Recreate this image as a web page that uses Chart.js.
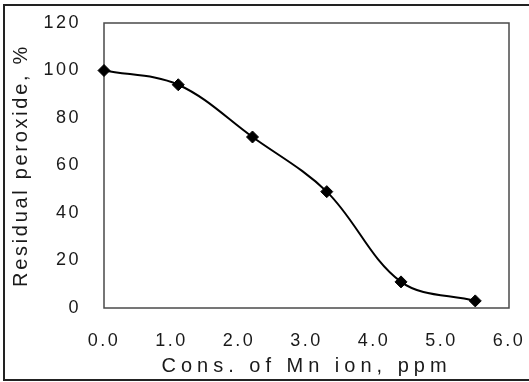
<!DOCTYPE html>
<html>
<head>
<meta charset="utf-8">
<script src="https://cdn.jsdelivr.net/npm/chart.js@4/dist/chart.umd.min.js"></script>
<style>
  html, body { margin: 0; padding: 0; background: #fff; }
  #wrap { position: relative; width: 529px; height: 382px; }
  #frame {
    position: absolute; left: 3px; top: 4px; right: 0; bottom: 1px;
    border-left: 2px solid #222; border-top: 2px solid #222; border-bottom: 2px solid #222;
    pointer-events: none;
  }
</style>
</head>
<body>
<div id="wrap">
  <canvas id="chart" width="529" height="382"></canvas>
  <div id="frame"></div>
</div>
<script>
// Mn ion concentration (ppm) vs. residual peroxide (%)
var concentration = [0.0, 1.1, 2.2, 3.3, 4.4, 5.5];
var residualPeroxide = [100, 94, 72, 49, 11, 3];
var xTicks = [0, 1, 2, 3, 4, 5, 6];
var yTicks = [0, 20, 40, 60, 80, 100, 120];

var textColor = '#1a1a1a';
var fontFamily = '"Liberation Sans", Arial, sans-serif';

// canvas letter spacing: one value for tick labels, one per axis title
var spacing = { ticks: '2.5px', x: '5px', y: '2.7px' };

var letterSpacing = {
  id: 'letterSpacing',
  beforeDraw: function (chart) {
    chart.ctx.letterSpacing = spacing.ticks;
    Object.values(chart.scales).forEach(function (scale) {
      if (scale._spacedTitle) return;
      var drawTitle = scale.drawTitle;
      scale.drawTitle = function () {
        this.ctx.save();
        this.ctx.letterSpacing = spacing[this.id];
        drawTitle.apply(this, arguments);
        this.ctx.restore();
      };
      scale._spacedTitle = true;
    });
  },
  afterDraw: function (chart) {
    chart.ctx.letterSpacing = '0px';
  }
};

// box around the plot area
var plotFrame = {
  id: 'plotFrame',
  beforeDatasetsDraw: function (chart) {
    var a = chart.chartArea, ctx = chart.ctx;
    ctx.save();
    ctx.strokeStyle = '#4a4a4a';
    ctx.lineWidth = 1.5;
    ctx.strokeRect(a.left, a.top, a.right - a.left, a.bottom - a.top);
    ctx.restore();
  }
};

var points = concentration.map(function (x, i) {
  return { x: x, y: residualPeroxide[i] };
});

new Chart(document.getElementById('chart').getContext('2d'), {
  type: 'line',
  data: {
    datasets: [{
      data: points,
      borderColor: '#000',
      borderWidth: 2,
      tension: 0.35,
      pointStyle: 'rectRot',
      pointRadius: 6,
      pointBackgroundColor: '#000',
      pointBorderColor: '#000',
      pointBorderWidth: 1,
      clip: false
    }]
  },
  options: {
    responsive: false,
    animation: false,
    layout: { padding: { left: 8, top: 23, right: 20, bottom: 0 } },
    plugins: {
      legend: { display: false },
      tooltip: { enabled: false }
    },
    scales: {
      x: {
        type: 'linear',
        min: 0,
        max: 6,
        afterBuildTicks: function (s) {
          s.ticks = xTicks.map(function (v) { return { value: v }; });
        },
        // fixed axis height, and no extra room reserved for the end labels
        afterFit: function (s) {
          s.height = 74;
          s.paddingLeft = 0;
          s.paddingRight = 0;
        },
        grid: { display: false, drawTicks: false },
        border: { display: false },
        ticks: {
          padding: 22,
          color: textColor,
          font: { family: fontFamily, size: 18 },
          callback: function (v) { return Number(v).toFixed(1); }
        },
        title: {
          display: true,
          text: 'Cons. of Mn ion, ppm',
          color: textColor,
          font: { family: fontFamily, size: 20 },
          padding: { top: 0, bottom: 4 }
        }
      },
      y: {
        min: 0,
        max: 120,
        afterBuildTicks: function (s) {
          s.ticks = yTicks.map(function (v) { return { value: v }; });
        },
        afterFit: function (s) {
          s.width = 96;
          s.paddingTop = 0;
          s.paddingBottom = 0;
        },
        grid: { display: false, drawTicks: false },
        border: { display: false },
        ticks: {
          padding: 23,
          color: textColor,
          font: { family: fontFamily, size: 18 }
        },
        title: {
          display: true,
          text: 'Residual peroxide, %',
          color: textColor,
          font: { family: fontFamily, size: 20 },
          padding: { top: 1, bottom: 0 }
        }
      }
    }
  },
  plugins: [letterSpacing, plotFrame]
});
</script>
</body>
</html>
